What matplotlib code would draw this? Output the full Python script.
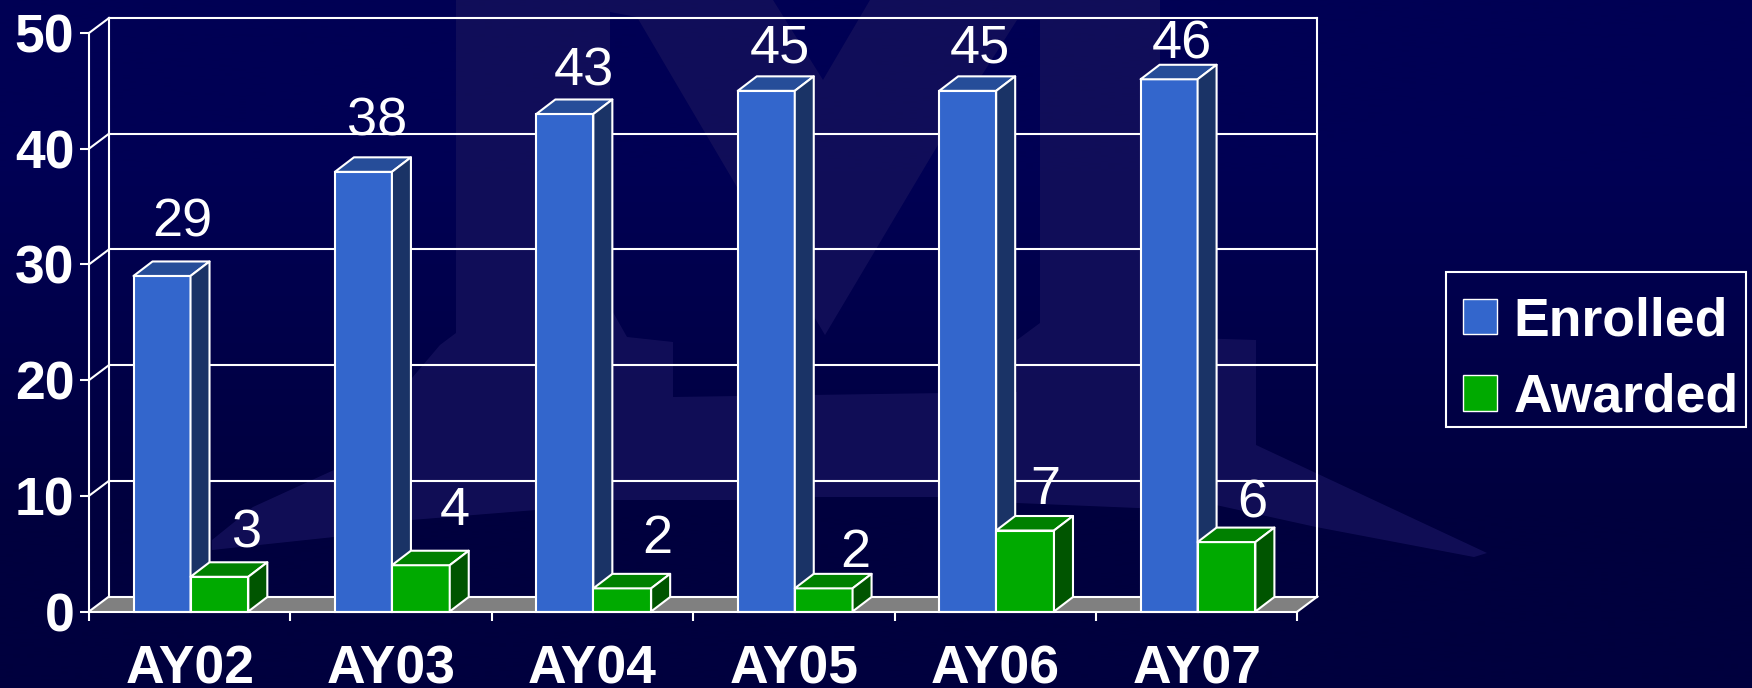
import numpy as np
import matplotlib
matplotlib.use("Agg")
import matplotlib.pyplot as plt
from matplotlib.patches import Patch, PathPatch, Polygon, Rectangle
from matplotlib.path import Path

plt.rcParams['font.family'] = ['Liberation Sans', 'DejaVu Sans']

categories = ["AY02", "AY03", "AY04", "AY05", "AY06", "AY07"]
enrolled = [29, 38, 43, 45, 45, 46]
awarded = [3, 4, 2, 2, 7, 6]
y_ticks = [0, 10, 20, 30, 40, 50]

# Label nudges in pixels, the original labels were placed by hand.
enrolled_label_dx = [20, 14, 19, 14, 12, 13]
enrolled_label_dy = [39, 36, 28, 28, 28, 21]
awarded_label_dx = [28, 34, 35, 32, 20, 26]
awarded_label_dy = [29, 40, 35, 21, 27, 25]

W, H = 1752, 688
FONT = 38.5
VALUE_FONT = 39
WHITE_LW = 1.5

# Colours: front, top, side
BLUE = ("#3366cc", "#264d99", "#1a3366")
GREEN = ("#00aa00", "#008000", "#005500")
GLOW = "#14105a"

fig = plt.figure(figsize=(W / 100, H / 100), dpi=100)

# Background with the faint watermark, in pixel coordinates.
bg = fig.add_axes([0, 0, 1, 1], zorder=0)
shade = np.array([[0, 0, 84], [0, 0, 62]], dtype=float)[:, None, :] / 255
bg.imshow(shade, extent=[0, W, H, 0], aspect="auto", interpolation="bilinear")
bg.set_xlim(0, W)
bg.set_ylim(H, 0)
bg.axis("off")
glow_outline = [(456, 0), (1160, 0), (1160, 337), (1256, 340), (1256, 445), (1487, 553), (1474, 557),
                (1316, 527), (1216, 505), (1138, 508), (1017, 503), (938, 497), (815, 497), (736, 500),
                (613, 500), (536, 510), (411, 520), (334, 537), (212, 550), (212, 540), (253, 507),
                (334, 470), (440, 345), (456, 333)]
glow_holes = [
    [(610, 12), (637, 17), (737, 187), (825, 335), (945, 133), (1017, 20), (1040, 20), (1040, 323),
     (1017, 340), (1017, 392), (673, 397), (673, 342), (627, 337), (610, 307)],
    [(773, 0), (870, 0), (823, 80)],
]
verts, codes = [], []
for ring in [glow_outline] + [h[::-1] for h in glow_holes]:
    verts += ring + [ring[0]]
    codes += [Path.MOVETO] + [Path.LINETO] * (len(ring) - 1) + [Path.CLOSEPOLY]
bg.add_patch(PathPatch(Path(verts, codes), facecolor=GLOW, edgecolor="none", alpha=0.85))

# Axes is the front plane of the 3D chart.
x0, x1, y0, y1 = 89, 1297.5, 611.5, 33
ax = fig.add_axes([x0 / W, 1 - y0 / H, (x1 - x0) / W, (y0 - y1) / H], zorder=1)
ax.patch.set_alpha(0)
ax.set_xlim(0, len(categories))
ax.set_ylim(0, 50)

px_x = len(categories) / (x1 - x0)  # data units for one pixel
px_y = 50 / (y0 - y1)
wall_dx, wall_dy = 20 * px_x, 15 * px_y
bar_dx, bar_dy = 19 * px_x, 14.5 * px_y
n = len(categories)


def white_line(xs, ys, z=1):
    ax.plot(xs, ys, color="white", lw=WHITE_LW, clip_on=False, zorder=z, solid_capstyle="projecting")


# Floor and back wall
ax.add_patch(Polygon([(0, 0), (n, 0), (n + wall_dx, wall_dy), (wall_dx, wall_dy)],
                     facecolor="#808080", edgecolor="none", clip_on=False, zorder=1))
white_line([wall_dx, n + wall_dx], [wall_dy, wall_dy])
white_line([n, n + wall_dx], [0, wall_dy])
white_line([wall_dx, wall_dx], [wall_dy, 50 + wall_dy])
white_line([n + wall_dx, n + wall_dx], [wall_dy, 50 + wall_dy])
for t in y_ticks:
    white_line([0, wall_dx], [t, t + wall_dy])
    if t > 0:
        white_line([wall_dx, n + wall_dx], [t + wall_dy, t + wall_dy])


def draw_bar(left, width, value, colors, z):
    ax.bar(left, value, width, align="edge", color=colors[0], edgecolor="white",
           linewidth=WHITE_LW, zorder=z, clip_on=False)
    right = left + width
    top = [(left, value), (right, value), (right + bar_dx, value + bar_dy), (left + bar_dx, value + bar_dy)]
    side = [(right, 0), (right + bar_dx, bar_dy), (right + bar_dx, value + bar_dy), (right, value)]
    for pts, c in ((top, colors[1]), (side, colors[2])):
        ax.add_patch(Polygon(pts, facecolor=c, edgecolor="white", linewidth=WHITE_LW,
                             clip_on=False, zorder=z, joinstyle="round"))


def value_label(x, value, dx, dy):
    ax.annotate(str(value), (x, value), xytext=(dx * 0.72, dy * 0.72), textcoords="offset points",
                ha="center", va="baseline", color="white", fontsize=VALUE_FONT, zorder=20,
                annotation_clip=False)


bar_start, bar_w, green_w = 0.221, 0.283, 0.287
for i in range(n):
    draw_bar(i + bar_start, bar_w, enrolled[i], BLUE, 3 + i)
    draw_bar(i + bar_start + bar_w, green_w, awarded[i], GREEN, 3 + i + 0.5)
    value_label(i + bar_start + bar_w / 2, enrolled[i], enrolled_label_dx[i], enrolled_label_dy[i])
    value_label(i + bar_start + bar_w + green_w / 2, awarded[i], awarded_label_dx[i], awarded_label_dy[i])

# Axes, ticks and their labels
for s in ("top", "right"):
    ax.spines[s].set_visible(False)
for s in ("left", "bottom"):
    ax.spines[s].set_color("white")
    ax.spines[s].set_linewidth(WHITE_LW)
    ax.spines[s].set_zorder(15)
ax.set_yticks(y_ticks)
ax.tick_params(axis="y", colors="white", length=6.5, width=WHITE_LW, pad=4, labelsize=FONT)
ax.set_xticks(range(n + 1))
ax.set_xticklabels([])
ax.set_xticks(np.arange(n) + 0.5, minor=True)
ax.set_xticklabels(categories, minor=True)
ax.tick_params(axis="x", which="major", colors="white", length=6.5, width=WHITE_LW)
ax.tick_params(axis="x", which="minor", colors="white", length=0, pad=24, labelsize=FONT)
for lab in ax.get_yticklabels() + ax.get_xticklabels(minor=True):
    lab.set_fontweight("bold")

# Legend, its frame is drawn apart because the rows do not sit centred in it.
fig.add_artist(Rectangle((1446 / W, 1 - 427 / H), 300 / W, 155 / H, transform=fig.transFigure,
                         facecolor="none", edgecolor="white", linewidth=WHITE_LW))
handles = [Patch(facecolor=BLUE[0], edgecolor="white", linewidth=1.0, label="Enrolled"),
           Patch(facecolor=GREEN[0], edgecolor="white", linewidth=1.0, label="Awarded")]
leg = fig.legend(handles=handles, loc="upper left", bbox_to_anchor=(1463 / W, 1 - 296 / H),
                 borderaxespad=0, prop={"weight": "bold", "size": FONT}, frameon=False,
                 handlelength=0.64, handleheight=0.64, handletextpad=0.31,
                 labelspacing=0.5, borderpad=0, labelcolor="white")
leg.set_zorder(5)

fig.savefig("out.png", dpi=100)
